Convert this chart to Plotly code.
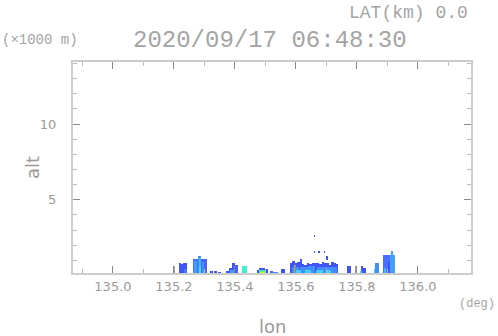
import plotly.graph_objects as go

# ---- data (lon in deg, alt in km, echo intensity in dBZ) ----
lon_left = [
    135.216, 135.223, 135.230, 135.236,
    135.261, 135.279, 135.290, 135.266, 135.281, 135.283, 135.293,
    135.318, 135.331, 135.344, 135.370, 135.380, 135.390, 135.400, 135.385,
    135.422,
    135.472, 135.479, 135.489, 135.498, 135.478, 135.483, 135.487,
    135.515, 135.525, 135.551,
    135.580, 135.588, 135.596, 135.604, 135.612, 135.620, 135.628, 135.636,
    135.644, 135.652, 135.660, 135.668, 135.676, 135.684, 135.692, 135.700,
    135.708, 135.716, 135.724, 135.732,
    135.586, 135.612, 135.640, 135.668, 135.700,
    135.600, 135.630, 135.665, 135.700,
    135.6595, 135.6595, 135.6745, 135.6920, 135.7000,
    135.766, 135.812, 135.820, 135.812,
    135.856, 135.860,
    135.884, 135.909, 135.914, 135.888, 135.904,
]
lon_right = [
    135.223, 135.230, 135.243, 135.242,
    135.279, 135.290, 135.307, 135.276, 135.288, 135.287, 135.300,
    135.328, 135.341, 135.354, 135.380, 135.390, 135.400, 135.410, 135.398,
    135.440,
    135.479, 135.489, 135.498, 135.508, 135.502, 135.497, 135.494,
    135.525, 135.541, 135.564,
    135.588, 135.596, 135.604, 135.612, 135.620, 135.628, 135.636, 135.644,
    135.652, 135.660, 135.668, 135.676, 135.684, 135.692, 135.700, 135.708,
    135.716, 135.724, 135.732, 135.738,
    135.610, 135.638, 135.664, 135.698, 135.736,
    135.615, 135.650, 135.690, 135.715,
    135.6615, 135.6615, 135.6765, 135.6940, 135.7030,
    135.780, 135.820, 135.829, 135.818,
    135.863, 135.873,
    135.909, 135.925, 135.917, 135.895, 135.909,
]
alt_base = [
    0, 0, 0, 0,
    0, 0, 0, 0, 0, 0, 0,
    0, 0, 0, 0, 0, 0, 0, 0,
    0,
    0, 0, 0, 0, 0, 0, 0,
    0, 0, 0,
    0, 0, 0, 0, 0, 0, 0, 0, 0, 0, 0, 0, 0, 0, 0, 0, 0, 0, 0, 0,
    0, 0, 0, 0, 0,
    0, 0, 0, 0,
    2.55, 1.50, 1.52, 1.52, 1.05,
    0, 0, 0, 0,
    0, 0,
    0, 0, 0, 0, 0,
]
alt_top = [
    0.85, 0.76, 0.80, 0.45,
    1.09, 1.27, 1.09, 0.95, 1.15, 0.60, 0.90,
    0.30, 0.33, 0.25, 0.30, 0.50, 0.83, 0.69, 0.40,
    0.63,
    0.36, 0.50, 0.51, 0.43, 0.40, 0.33, 0.25,
    0.30, 0.25, 0.43,
    0.83, 0.94, 0.80, 0.90, 1.09, 0.78, 0.72, 0.82, 0.76, 0.85, 0.80, 0.86,
    0.74, 0.88, 0.80, 0.85, 0.72, 0.88, 0.82, 0.76,
    0.58, 0.55, 0.60, 0.55, 0.58,
    0.38, 0.35, 0.40, 0.36,
    2.65, 1.62, 1.60, 1.60, 1.27,
    0.63, 0.63, 0.50, 0.30,
    0.45, 0.85,
    1.35, 1.35, 1.64, 0.50, 0.90,
]
dbz = [
    5, 5, 5, 12,
    10, 15, 8, 18, 22, 28, 16,
    5, 5, 5, 5, 5, 5, 8, 18,
    30,
    5, 5, 5, 5, 28, 38, 45,
    8, 15, 5,
    5, 5, 5, 5, 5, 5, 5, 5, 5, 5, 5, 5, 5, 5, 5, 5, 5, 5, 5, 5,
    15, 15, 15, 15, 15,
    25, 25, 25, 25,
    5, 5, 5, 5, 5,
    5, 5, 5, 25,
    25, 15,
    10, 18, 18, 22, 5,
]

# terrain marker sticks (grey)
stick_lon = [135.200, 135.597, 135.797]
stick_top = [0.63, 0.70, 0.63]

x_range = [134.869, 136.174]
y_range = [0.17, 14.09]

centers = [(a + b) / 2 for a, b in zip(lon_left, lon_right)]
widths = [b - a for a, b in zip(lon_left, lon_right)]
heights = [t - b for t, b in zip(alt_top, alt_base)]

colorscale = [
    [0.00, "#3a3aee"],
    [0.20, "#4a6cff"],
    [0.36, "#40a0ff"],
    [0.50, "#40d0ff"],
    [0.60, "#40f0d0"],
    [0.76, "#60ff60"],
    [0.90, "#f0f000"],
    [1.00, "#ff9000"],
]

fig = go.Figure()
fig.add_trace(go.Bar(
    x=centers, y=heights, base=alt_base, width=widths,
    marker=dict(color=dbz, colorscale=colorscale, cmin=0, cmax=50,
                line=dict(width=0)),
    showlegend=False, hoverinfo="skip",
))
fig.add_trace(go.Bar(
    x=stick_lon, y=stick_top, base=[0] * len(stick_lon),
    width=[0.0025] * len(stick_lon),
    marker=dict(color="#a0a0a0", line=dict(width=0)),
    showlegend=False, hoverinfo="skip",
))

grey = "#9a9a9a"
axis_common = dict(
    showline=True, linecolor="#cccccc", linewidth=2, mirror="ticks",
    ticks="inside", tickcolor="#888888", ticklen=7, tickwidth=1,
    showgrid=False, zeroline=False,
    tickfont=dict(family="DejaVu Sans", size=13, color=grey),
)

fig.update_xaxes(
    range=x_range, tick0=135.0, dtick=0.2, tickformat=".1f",
    minor=dict(ticks="inside", dtick=0.1, ticklen=4, tickcolor="#bbbbbb", showgrid=False),
    **axis_common,
)
fig.update_yaxes(
    range=y_range, tick0=0, dtick=5, ticklabelstandoff=12,
    minor=dict(ticks="inside", dtick=1, ticklen=4, tickcolor="#bbbbbb", showgrid=False),
    **axis_common,
)

mono = "Liberation Mono"
head = "#a4a4a4"
annotations = [
    dict(text="LAT(km) 0.0", x=0.9975, y=1.232, xanchor="right", yanchor="middle",
         font=dict(family=mono, size=18, color=head)),
    dict(text="2020/09/17 06:48:30", x=0.496, y=1.104, xanchor="center", yanchor="middle",
         font=dict(family=mono, size=24, color=head)),
    dict(text="(×1000 m)", x=-0.183, y=1.104, xanchor="left", yanchor="middle",
         font=dict(family=mono, size=14, color=head)),
    dict(text="(deg)", x=1.065, y=-0.147, xanchor="right", yanchor="middle",
         font=dict(family=mono, size=12, color=head)),
    dict(text="lon", x=0.5, y=-0.255, xanchor="center", yanchor="middle",
         font=dict(family="DejaVu Sans", size=18, color=grey)),
    dict(text="alt", x=-0.103, y=0.4976, xanchor="center", yanchor="middle", textangle=-90,
         font=dict(family="DejaVu Sans", size=18, color=grey)),
]
for a in annotations:
    a.update(xref="paper", yref="paper", showarrow=False)

fig.update_layout(
    width=498, height=336,
    margin=dict(l=73, r=27, t=62, b=63),
    paper_bgcolor="white", plot_bgcolor="white",
    barmode="overlay", bargap=0,
    annotations=annotations,
)

fig.write_html(
    "out.html",
    config={"displayModeBar": False},
    post_script="document.body.style.margin='0';document.body.style.overflow='hidden';",
)
